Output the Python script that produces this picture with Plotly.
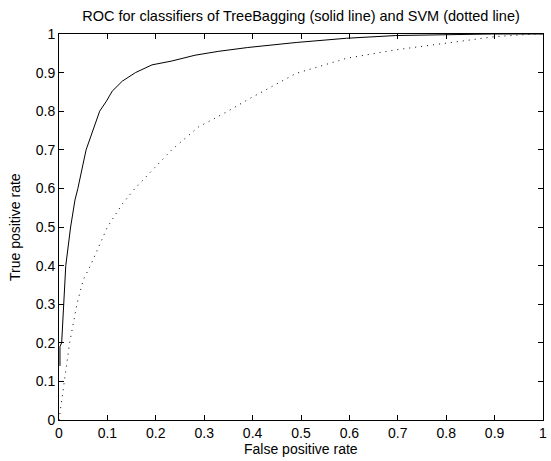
import plotly.graph_objects as go

# TreeBagging ROC (solid line)
tb_fpr = [0.002, 0.002, 0.0055, 0.009, 0.012, 0.014, 0.024, 0.033, 0.039, 0.056, 0.084, 0.098, 0.110,
          0.131, 0.158, 0.192, 0.233, 0.281, 0.329, 0.39, 0.49, 0.594, 0.696, 0.80, 0.894, 1.0]
tb_tpr = [0.140, 0.190, 0.20, 0.30, 0.363, 0.40, 0.50, 0.57, 0.60, 0.70, 0.80, 0.826, 0.852,
          0.878, 0.90, 0.92, 0.93, 0.945, 0.955, 0.965, 0.978, 0.989, 0.996, 0.999, 1.0, 1.0]

# SVM ROC (dotted line)
svm_fpr = [0.0, 0.004, 0.010, 0.022, 0.037, 0.050, 0.065, 0.100, 0.131, 0.157, 0.233, 0.288, 0.349,
           0.39, 0.49, 0.594, 0.696, 0.80, 0.90, 0.98, 1.0]
svm_tpr = [0.0, 0.035, 0.10, 0.20, 0.30, 0.363, 0.40, 0.50, 0.56, 0.60, 0.70, 0.759, 0.80,
           0.83, 0.898, 0.937, 0.959, 0.976, 0.993, 1.0, 1.0]

tick_vals = [0, 0.1, 0.2, 0.3, 0.4, 0.5, 0.6, 0.7, 0.8, 0.9, 1]
tick_text = ["0", "0.1", "0.2", "0.3", "0.4", "0.5", "0.6", "0.7", "0.8", "0.9", "1"]

title_text = "ROC for classifiers of TreeBagging (solid line) and SVM (dotted line)"
x_title = "False positive rate"
y_title = "True positive rate"

FONT = "Liberation Sans, Arial, sans-serif"
W, H = 551, 461
L, R, T, B = 59, 4, 34, 41

fig = go.Figure()
fig.add_trace(go.Scatter(x=svm_fpr, y=svm_tpr, mode="lines",
                         line=dict(color="black", width=1, dash="1px,5px"),
                         showlegend=False, hoverinfo="skip"))
fig.add_trace(go.Scatter(x=tb_fpr, y=tb_tpr, mode="lines",
                         line=dict(color="black", width=1),
                         showlegend=False, hoverinfo="skip"))

axis_common = dict(
    range=[0, 1], tickvals=tick_vals, ticktext=tick_text,
    ticks="inside", ticklen=5, tickwidth=1, tickcolor="black",
    showline=True, linecolor="black", linewidth=1, mirror="ticks",
    showgrid=False, zeroline=False, ticklabeloverflow="allow",
    tickfont=dict(family=FONT, size=14, color="black"),
)

fig.update_layout(
    width=W, height=H,
    margin=dict(l=L, r=R, t=T, b=B),
    paper_bgcolor="white", plot_bgcolor="white",
    title=dict(text=title_text,
               x=0.5, xref="paper", y=1 - 16 / H, yref="container",
               xanchor="center", yanchor="middle",
               font=dict(family=FONT, size=14.5, color="black")),
    xaxis=dict(**axis_common, ticklabelstandoff=0),
    yaxis=dict(**axis_common, ticklabelstandoff=0),
    annotations=[
        dict(text=x_title, xref="paper", yref="paper", x=0.5, y=0,
             xanchor="center", yanchor="middle", yshift=-29, showarrow=False,
             font=dict(family=FONT, size=14, color="black")),
        dict(text=y_title, xref="paper", yref="paper", x=0, y=0.5,
             xanchor="center", yanchor="middle", xshift=-(L - 15), textangle=-90,
             showarrow=False, font=dict(family=FONT, size=14, color="black")),
    ],
)

fig.write_html("out.html",
               config={"displayModeBar": False},
               post_script="document.body.style.margin='0';document.body.style.overflow='hidden';")
